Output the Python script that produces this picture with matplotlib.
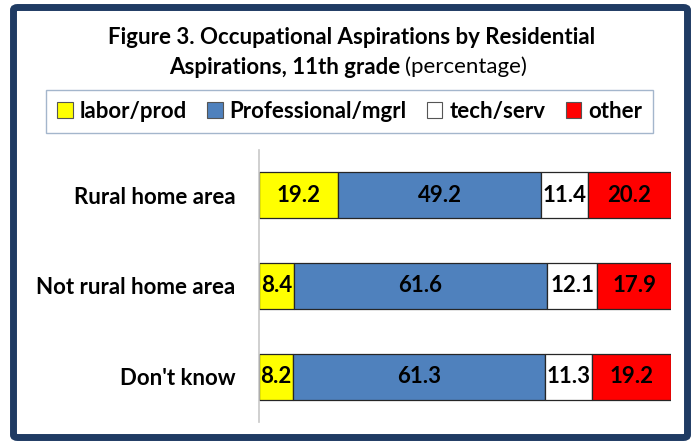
import matplotlib.pyplot as plt
from matplotlib.patches import Patch, FancyBboxPatch

plt.rcParams['font.family'] = ['Lato', 'DejaVu Sans']

categories = ['Rural home area', 'Not rural home area', "Don't know"]
series_names = ['labor/prod', 'Professional/mgrl', 'tech/serv', 'other']
series_colors = ['#FFFF00', '#4F81BD', '#FFFFFF', '#FF0000']
labor = [19.2, 8.4, 8.2]
professional = [49.2, 61.6, 61.3]
tech = [11.4, 12.1, 11.3]
other = [20.2, 17.9, 19.2]

W, H = 694, 441
FS = 16
fig = plt.figure(figsize=(W / 100, H / 100), dpi=100)

# navy frame round the whole chart
frame = FancyBboxPatch((13.5 / W, 3.5 / H), 674 / W, 430 / H,
                       boxstyle='round,pad=0,rounding_size=0.006',
                       transform=fig.transFigure, facecolor='none',
                       edgecolor='#1F3B63', linewidth=5.0, zorder=0)
fig.patches.append(frame)

ax = fig.add_axes([259 / W, 19 / H, 412 / W, 272 / H])

left = [0, 0, 0]
for vals, name, col in zip([labor, professional, tech, other], series_names, series_colors):
    bars = ax.barh(categories, vals, left=left, height=0.51, color=col,
                   edgecolor='#262626', linewidth=0.9, label=name)
    ax.bar_label(bars, labels=[f'{v:.1f}' for v in vals], label_type='center',
                 fontsize=FS, fontweight='bold', color='black')
    left = [a + b for a, b in zip(left, vals)]

ax.set_xlim(0, 100)
ax.set_ylim(2.5, -0.5)
ax.set_xticks([])
for s in ['top', 'right', 'bottom']:
    ax.spines[s].set_visible(False)
ax.spines['left'].set_color('#C8C8C8')
ax.spines['left'].set_linewidth(1.2)
ax.tick_params(axis='y', length=0, pad=17)
for lbl in ax.get_yticklabels():
    lbl.set_fontsize(FS)
    lbl.set_fontweight('bold')

# title: bold first part, regular "(percentage)" on the second line
fig.text(352 / W, 1 - 37 / H, 'Figure 3. Occupational Aspirations by Residential',
         ha='center', va='center', fontsize=FS, fontweight='bold')
fig.canvas.draw()
r = fig.canvas.get_renderer()
t1 = fig.text(0, 1 - 67 / H, 'Aspirations, 11th grade ', ha='left', va='center',
              fontsize=FS, fontweight='bold')
t2 = fig.text(0, 1 - 67 / H, '(percentage)', ha='left', va='center', fontsize=FS)
w1 = t1.get_window_extent(r).width
w2 = t2.get_window_extent(r).width
x0 = 348 - (w1 + w2) / 2
t1.set_x(x0 / W)
t2.set_x((x0 + w1) / W)

handles = [Patch(facecolor=c, edgecolor='#555555', linewidth=0.8) for c in series_colors]
leg = fig.legend(handles, series_names, ncol=4, mode='expand', loc='center',
                 bbox_to_anchor=(46 / W, 1 - 132 / H, 607 / W, 41 / H),
                 prop={'size': FS, 'weight': 'bold'}, fancybox=False,
                 handlelength=0.7, handleheight=0.7, handletextpad=0.3,
                 borderaxespad=0, borderpad=0.5)
leg.get_frame().set_edgecolor('#8EA4C0')
leg.get_frame().set_linewidth(1.0)

fig.savefig('out.png', dpi=100)
